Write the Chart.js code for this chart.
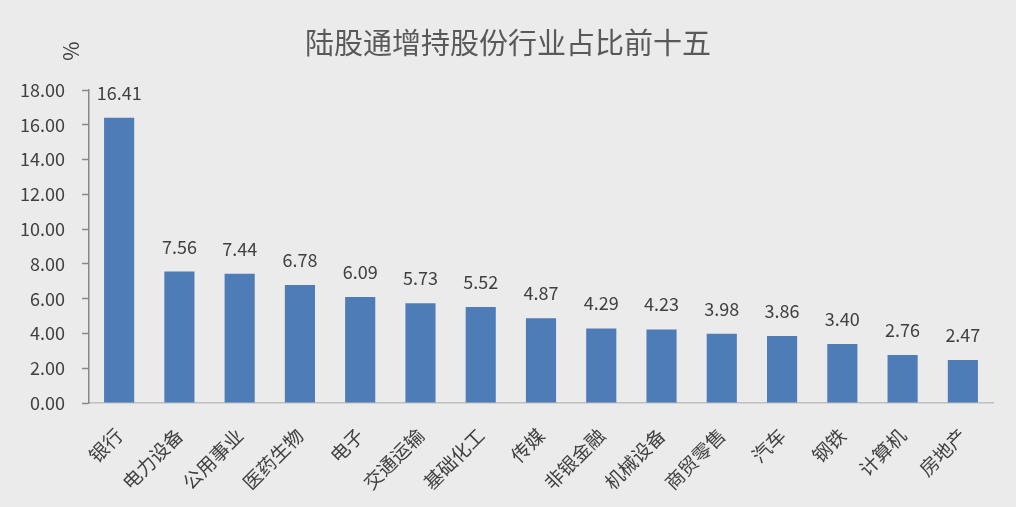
<!DOCTYPE html>
<html>
<head>
<meta charset="utf-8">
<script src="https://cdn.jsdelivr.net/npm/chart.js@4.4.1/dist/chart.umd.min.js"></script>
<style>
html,body{margin:0;padding:0;background:#ebebeb;}
#wrap{width:1016px;height:507px;}
</style>
</head>
<body>
<div id="wrap"><canvas id="c" width="1016" height="507"></canvas></div>
<script>
const titleText = '陆股通增持股份行业占比前十五';
const unitLabel = '%';
const categories = ['银行','电力设备','公用事业','医药生物','电子','交通运输','基础化工','传媒','非银金融','机械设备','商贸零售','汽车','钢铁','计算机','房地产'];
const values = [16.41,7.56,7.44,6.78,6.09,5.73,5.52,4.87,4.29,4.23,3.98,3.86,3.40,2.76,2.47];
const yMin = 0, yMax = 18, yStep = 2;

const FONT = "'Noto Sans CJK SC', 'Noto Sans', sans-serif";

const bgPlugin = {
  id: 'bg',
  beforeDraw(chart) {
    const ctx = chart.ctx;
    ctx.save();
    ctx.fillStyle = '#ebebeb';
    ctx.fillRect(0, 0, chart.width, chart.height);
    ctx.restore();
  }
};

const textPlugin = {
  id: 'texts',
  afterDraw(chart) {
    const ctx = chart.ctx;
    ctx.save();
    // title
    ctx.fillStyle = '#595959';
    ctx.font = '29px ' + FONT;
    ctx.textAlign = 'center';
    ctx.textBaseline = 'middle';
    ctx.fillText(titleText, 508, 43);
    // unit
    ctx.save();
    ctx.translate(71, 51);
    ctx.rotate(-Math.PI / 2);
    ctx.font = '21px ' + FONT;
    ctx.fillStyle = '#404040';
    ctx.fillText(unitLabel, 0, 0);
    ctx.restore();
    // data labels
    const meta = chart.getDatasetMeta(0);
    ctx.font = '18px ' + FONT;
    ctx.fillStyle = '#404040';
    ctx.textAlign = 'center';
    ctx.textBaseline = 'alphabetic';
    meta.data.forEach((bar, i) => {
      ctx.fillText(values[i].toFixed(2), bar.x, bar.y - 18);
    });
    ctx.restore();
  }
};

new Chart(document.getElementById('c'), {
  type: 'bar',
  data: {
    labels: categories,
    datasets: [{
      data: values,
      backgroundColor: '#4e7cb7',
      barPercentage: 0.5,
      categoryPercentage: 1.0
    }]
  },
  options: {
    responsive: false,
    animation: false,
    devicePixelRatio: 1,
    layout: { padding: { top: 90, right: 23, left: 0, bottom: 0 } },
    plugins: {
      legend: { display: false },
      tooltip: { enabled: false },
      title: { display: false }
    },
    scales: {
      x: {
        grid: { display: false },
        border: { display: true, color: '#bfbfbf', width: 1.5 },
        ticks: {
          color: '#404040',
          font: { family: FONT, size: 19 },
          maxRotation: 45,
          minRotation: 45,
          padding: 13,
          autoSkip: false
        },
        afterFit(scale) { scale.height = 104; }
      },
      y: {
        min: yMin,
        max: yMax,
        grid: { display: true, drawOnChartArea: false, tickLength: 7, color: '#888888', tickWidth: 1.5 },
        border: { display: true, color: '#888888', width: 1.5 },
        ticks: {
          stepSize: yStep,
          color: '#404040',
          font: { family: FONT, size: 18 },
          padding: 17,
          callback: v => Number(v).toFixed(2)
        },
        afterFit(scale) { scale.width = 89; }
      }
    }
  },
  plugins: [bgPlugin, textPlugin]
});
</script>
</body>
</html>
